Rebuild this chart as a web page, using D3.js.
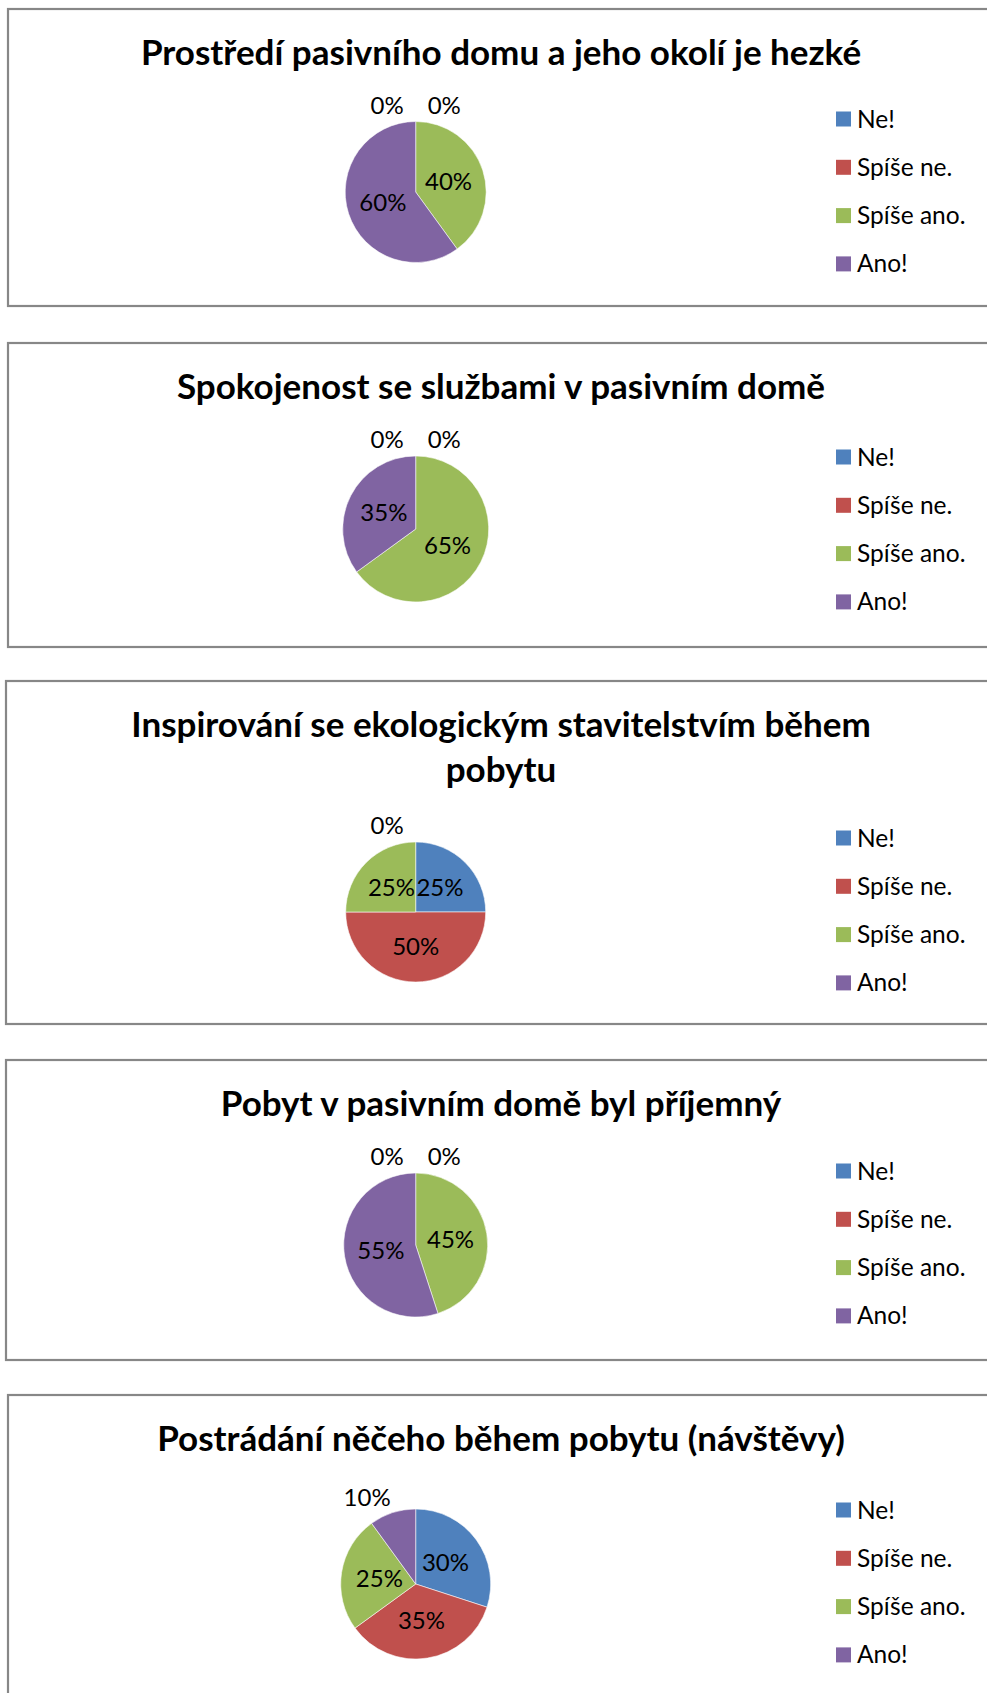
<!DOCTYPE html>
<html>
<head>
<meta charset="utf-8">
<script src="https://cdn.jsdelivr.net/npm/d3@7"></script>
<style>
  html, body { margin: 0; padding: 0; background: #fff; }
  svg { display: block; }
  text { font-family: Lato, Carlito, "Open Sans", sans-serif; fill: #000; }
</style>
</head>
<body>
<script>
// Answer categories shared by all five survey questions
const categories = ["Ne!", "Spíše ne.", "Spíše ano.", "Ano!"];
const colors = ["#4F81BD", "#C0504D", "#9BBB59", "#8064A2"];

// Question titles (split into display lines)
const titleProstredi = ["Prostředí pasivního domu a jeho okolí je hezké"];
const titleSluzby = ["Spokojenost se službami v pasivním domě"];
const titleInspirace = ["Inspirování se ekologickým stavitelstvím během", "pobytu"];
const titlePobyt = ["Pobyt v pasivním domě byl příjemný"];
const titlePostradani = ["Postrádání něčeho během pobytu (návštěvy)"];

// Share of answers in percent, in category order
const valuesProstredi = [0, 0, 40, 60];
const valuesSluzby = [0, 0, 65, 35];
const valuesInspirace = [25, 50, 25, 0];
const valuesPobyt = [0, 0, 45, 55];
const valuesPostradani = [30, 35, 25, 10];

const charts = [
  { title: titleProstredi, values: valuesProstredi },
  { title: titleSluzby, values: valuesSluzby },
  { title: titleInspirace, values: valuesInspirace },
  { title: titlePobyt, values: valuesPobyt },
  { title: titlePostradani, values: valuesPostradani }
];

// Frame geometry of each chart box
const frames = [
  { left: 8, top: 9,    bottom: 306,  cy: 192,  r: 70.5, legendY: 119 },
  { left: 8, top: 343,  bottom: 647,  cy: 529,  r: 73,   legendY: 457 },
  { left: 6, top: 681,  bottom: 1024, cy: 912,  r: 70,   legendY: 838 },
  { left: 6, top: 1060, bottom: 1360, cy: 1245, r: 72,   legendY: 1171 },
  { left: 8, top: 1395, bottom: 1720, cy: 1584, r: 75,   legendY: 1510 }
];

const W = 987, H = 1693;
const pieCx = 415.7;
const titleCx = 501;
const legendX = 836, legendStep = 48.3, swatch = 15;
const titleSize = 35, labelSize = 24, legendSize = 24.5;

const svg = d3.select("body").append("svg")
  .attr("width", W).attr("height", H);

const pct = d3.format(".0%");
const pie = d3.pie().sort(null).value(d => d).startAngle(0).endAngle(2 * Math.PI);
const color = d3.scaleOrdinal().domain(categories).range(colors);

charts.forEach((chart, i) => {
  const f = frames[i];
  const g = svg.append("g");

  // chart frame
  g.append("rect")
    .attr("x", f.left).attr("y", f.top)
    .attr("width", 1100).attr("height", f.bottom - f.top)
    .attr("fill", "#fff")
    .attr("stroke", "#878787").attr("stroke-width", 2.2);

  // title
  g.append("text")
    .attr("x", titleCx)
    .attr("y", f.top + 44)
    .attr("text-anchor", "middle")
    .attr("font-size", titleSize)
    .attr("font-weight", 700)
    .selectAll("tspan").data(chart.title).join("tspan")
      .attr("x", titleCx)
      .attr("dy", (d, k) => k === 0 ? "0.35em" : "1.27em")
      .text(d => d);

  // pie
  const arcs = pie(chart.values).map((a, k) => ({ ...a, cat: categories[k] }));
  const arc = d3.arc().innerRadius(0).outerRadius(f.r);
  const labelArc = d3.arc().innerRadius(0).outerRadius(f.r * 0.98);
  const pg = g.append("g").attr("transform", `translate(${pieCx},${f.cy})`);

  pg.selectAll("path").data(arcs.filter(a => a.value > 0)).join("path")
    .attr("d", arc)
    .attr("fill", d => color(d.cat))
    .attr("stroke", "#fff").attr("stroke-opacity", 0.7).attr("stroke-width", 0.8);

  // data labels
  let topRightTaken = false;
  arcs.forEach(a => {
    const frac = a.value / 100;
    const t = pg.append("text")
      .attr("font-size", labelSize)
      .attr("text-anchor", "middle")
      .attr("dy", "0.35em")
      .text(pct(frac));
    const w = t.node().getComputedTextLength();
    const h = labelSize * 0.85;
    if (frac >= 0.15) {
      const [x, y] = labelArc.centroid(a);
      t.attr("x", x).attr("y", y);
    } else if (a.value === 0) {
      // empty slices sit at the top seam; spread them to either side
      let side;
      if (a.startAngle > Math.PI) side = -1;
      else if (!topRightTaken) { side = 1; topRightTaken = true; }
      else side = -1;
      t.attr("x", side * (w / 2 + 12)).attr("y", -f.r - 6 - h / 2);
    } else {
      const th = (a.startAngle + a.endAngle) / 2;
      const rr = f.r + 6;
      const px = rr * Math.sin(th), py = -rr * Math.cos(th);
      t.attr("x", px + Math.sign(Math.sin(th)) * w / 2)
       .attr("y", py - Math.cos(th) * h / 2);
    }
  });

  // legend
  const lg = g.append("g");
  categories.forEach((c, k) => {
    const y = f.legendY + k * legendStep;
    lg.append("rect")
      .attr("x", legendX).attr("y", y - swatch / 2)
      .attr("width", swatch).attr("height", swatch)
      .attr("fill", color(c));
    lg.append("text")
      .attr("x", legendX + 21).attr("y", y)
      .attr("dy", "0.35em")
      .attr("font-size", legendSize)
      .text(c);
  });
});
</script>
</body>
</html>
